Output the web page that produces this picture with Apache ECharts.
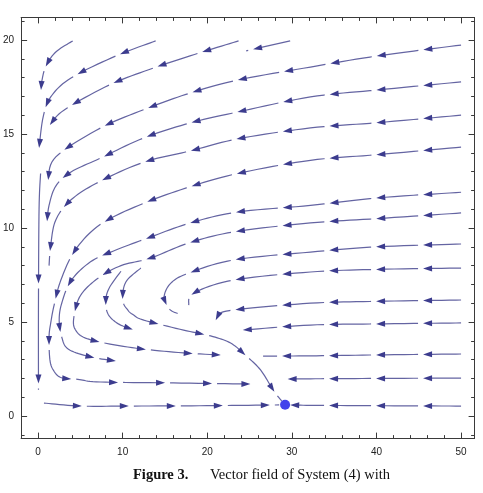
<!DOCTYPE html>
<html>
<head>
<meta charset="utf-8">
<script src="https://cdn.jsdelivr.net/npm/echarts@6/dist/echarts.min.js"></script>
<style>
  html, body { margin: 0; padding: 0; background: #fff; }
  #chart { width: 483px; height: 493px; }
</style>
</head>
<body>
<div id="chart"></div>
<script>
// tick values
const xMajorTicks = [0, 10, 20, 30, 40, 50];
const xMinorTicks = [2, 4, 6, 8, 12, 14, 16, 18, 22, 24, 26, 28, 32, 34, 36, 38, 42, 44, 46, 48];
const yMajorTicks = [0, 5, 10, 15, 20];
const yMinorTicks = [-1, 1, 2, 3, 4, 6, 7, 8, 9, 11, 12, 13, 14, 16, 17, 18, 19, 21];

// streamlines, points listed in the direction of flow
const streamTop1 = [[4.1, 19.95], [2.1, 19.36], [0.94, 18.62], [0.47, 17.87], [0.35, 17.34]];
const streamTop2 = [[13.9, 19.95], [9.2, 19.15], [3.9, 17.98], [1.5, 16.97], [0.6, 15.9], [0.12, 14.26]];
const streamTop3 = [[23.7, 19.95], [19.0, 19.3], [13.6, 18.5], [8.4, 17.6], [3.1, 16.28], [1.4, 15.48]];
const streamTop4 = [[29.8, 19.95], [24.6, 19.42]];
const streamR1 = [[50, 19.73], [40.1, 19.15], [32.2, 18.56], [23.6, 17.87], [18.0, 17.18], [13.0, 16.38], [7.4, 15.32], [2.1, 13.78], [1.2, 12.55]];
const streamR2 = [[50, 17.77], [40.1, 17.34], [32.2, 16.97], [23.6, 16.17], [18.0, 15.59], [12.5, 14.79], [7.4, 13.72], [3.9, 12.98], [2.1, 12.23], [1.3, 11.2], [1.06, 10.32]];
const streamR3 = [[50, 16.0], [40.1, 15.6], [32.2, 15.32], [23.6, 14.74], [18.0, 14.1], [12.5, 13.5], [7.2, 12.45], [3.9, 11.5], [2.1, 10.43], [1.5, 9.1], [1.3, 8.0]];
const streamR4 = [[50, 14.3], [40.1, 13.9], [32.2, 13.6], [23.6, 12.9], [18.0, 12.2], [12.4, 11.3], [7.4, 10.2], [4.4, 8.83], [2.7, 7.23], [1.9, 5.9], [1.5, 4.95], [1.3, 4.2], [1.4, 3.0], [1.8, 2.45], [2.7, 2.05], [4.7, 1.95], [7.4, 1.81], [16.0, 1.76], [25.1, 1.7]];
const streamR5 = [[50, 11.9], [40.1, 11.6], [32.2, 11.2], [23.6, 10.85], [18.0, 10.27], [13.3, 9.52], [9.2, 8.83], [6.2, 8.2], [3.9, 7.2], [2.8, 6.0], [2.5, 5.1], [2.8, 4.2], [3.6, 3.55], [6.25, 3.14], [9.2, 2.93]];
const streamR6 = [[50, 10.8], [40.1, 10.5], [32.2, 10.27], [23.1, 9.79], [17.8, 9.2], [13.3, 8.4], [9.8, 8.0], [7.0, 7.3], [5.0, 6.4], [4.25, 5.3], [4.4, 4.6], [5.9, 4.1], [10.6, 3.67], [16.0, 3.4], [21.6, 3.24]];
const streamInnerArc = [[9.8, 7.7], [8.4, 6.8], [8.0, 6.1], [8.3, 5.4], [9.5, 4.9], [11.2, 4.6]];
const streamSeparatrix = [[12.15, 7.87], [10.38, 7.13], [10.0, 6.17], [10.6, 5.64], [11.3, 5.37], [12.5, 5.1], [17.2, 4.57], [20.4, 4.26], [22.76, 3.88], [24.5, 3.24], [26.3, 2.45], [27.8, 1.38], [28.8, 0.8]];
const streamR7 = [[50, 9.15], [40.1, 9.0], [32.2, 8.72], [23.1, 8.3], [17.8, 7.6], [15.7, 7.07], [14.9, 6.33], [15.5, 5.7], [16.5, 5.45]];
const streamR8 = [[50, 7.87], [40.1, 7.8], [32.2, 7.66], [23.1, 7.23], [18.4, 6.54], [17.8, 5.9]];
const streamR9 = [[50, 6.17], [40.1, 6.1], [32.2, 6.0], [23.1, 5.64], [21.3, 5.37], [21.0, 5.1]];
const streamR10 = [[50, 4.95], [40.1, 4.9], [32.2, 4.84], [24.2, 4.57]];
const streamR11 = [[50, 3.3], [40.1, 3.25], [32.2, 3.2], [26.6, 3.19]];
const streamR12 = [[50, 2.02], [40.1, 2.0], [32.2, 1.98], [29.5, 1.97]];
const streamR13 = [[50, 0.53], [40.1, 0.55], [32.2, 0.57], [29.8, 0.59]];
const streamBottom = [[0.7, 0.69], [5.07, 0.53], [10.6, 0.53], [20, 0.55], [28.5, 0.59]];
const streamAxis = [[0.3, 12.9], [0.12, 11], [0.05, 6], [0.05, 1.4]];

const equilibrium = [[29.2, 0.6]];

const streams = [
  streamTop1, streamTop2, streamTop3, streamTop4,
  streamR1, streamR2, streamR3, streamR4, streamR5, streamR6, streamInnerArc, streamSeparatrix,
  streamR7, streamR8, streamR9, streamR10, streamR11, streamR12, streamR13,
  streamBottom, streamAxis
];
const longSegments = new Set([streamAxis]);

const lineColor = "#6464a2";
const headColor = "#3c3c8e";
const frameColor = "#3a3a3a";

// catmull-rom through the read points, in pixel space
function smoothPath(p) {
  if (p.length < 3) return p;
  const out = [p[0]];
  for (let i = 0; i < p.length - 1; i++) {
    const p0 = p[i - 1] || p[i], p1 = p[i], p2 = p[i + 1], p3 = p[i + 2] || p[i + 1];
    for (let k = 1; k <= 10; k++) {
      const t = k / 10, t2 = t * t, t3 = t2 * t;
      out.push([0, 1].map((j) => 0.5 * (2 * p1[j] + (-p0[j] + p2[j]) * t +
        (2 * p0[j] - 5 * p1[j] + 4 * p2[j] - p3[j]) * t2 +
        (-p0[j] + 3 * p1[j] - 3 * p2[j] + p3[j]) * t3)));
    }
  }
  return out;
}

function renderStream(params, api) {
  const src = streams[api.value(2)];
  const pts = smoothPath(src.map((p) => api.coord(p)));
  const cum = [0];
  for (let i = 1; i < pts.length; i++) {
    cum.push(cum[i - 1] + Math.hypot(pts[i][0] - pts[i - 1][0], pts[i][1] - pts[i - 1][1]));
  }
  const total = cum[cum.length - 1];
  const pointAt = (s) => {
    let i = 1;
    while (i < cum.length - 1 && cum[i] < s) i++;
    const t = (s - cum[i - 1]) / ((cum[i] - cum[i - 1]) || 1);
    return [pts[i - 1][0] + (pts[i][0] - pts[i - 1][0]) * t, pts[i - 1][1] + (pts[i][1] - pts[i - 1][1]) * t];
  };
  const slice = (a, b) => {
    const out = [pointAt(a)];
    for (let i = 0; i < pts.length; i++) if (cum[i] > a && cum[i] < b) out.push(pts[i]);
    out.push(pointAt(b));
    return out;
  };

  const long = longSegments.has(src);
  const first = long ? 110 : 38, seg = long ? 95 : 42, gap = 5, head = 9, half = 3;
  const children = [];
  let s0 = 0, len = first;
  while (s0 < total - 1) {
    const s1 = Math.min(s0 + len, total);
    const withHead = s1 - s0 > 14;
    const lineEnd = withHead ? s1 - head * 0.8 : s1;
    children.push({
      type: "polyline",
      shape: { points: slice(s0, lineEnd) },
      style: { stroke: lineColor, lineWidth: 1.2, fill: null },
      silent: true,
    });
    if (withHead) {
      const tip = pointAt(s1), back = pointAt(Math.max(s0, s1 - 6));
      let dx = tip[0] - back[0], dy = tip[1] - back[1];
      const d = Math.hypot(dx, dy) || 1;
      dx /= d; dy /= d;
      const bx = tip[0] - dx * head, by = tip[1] - dy * head;
      children.push({
        type: "polygon",
        shape: { points: [tip, [bx - dy * half, by + dx * half], [bx + dy * half, by - dx * half]] },
        style: { fill: headColor },
        silent: true,
      });
    }
    s0 = s1 + gap;
    len = seg;
  }
  return { type: "group", children };
}

const xRange = { min: -2, max: 51.6 };
const yRange = { min: -1.2, max: 21.2 };

function axisDef(range, position, ticks, length, labels, line, margin) {
  return {
    type: "value", position, ...range,
    axisLine: { show: line, onZero: false, lineStyle: { color: frameColor, width: 1 } },
    axisTick: { show: true, inside: true, length, customValues: ticks, lineStyle: { color: frameColor } },
    axisLabel: labels
      ? { show: true, customValues: ticks, color: "#222", fontSize: 10, fontFamily: "Liberation Sans", margin }
      : { show: false },
    splitLine: { show: false },
  };
}

const chart = echarts.init(document.getElementById("chart"), null, { renderer: "canvas" });

chart.setOption({
  animation: false,
  backgroundColor: "#fff",
  grid: { left: 20, right: 8.4, top: 17.4, bottom: 54.4, containLabel: false },
  xAxis: [
    axisDef(xRange, "bottom", xMajorTicks, 6, true, true, 9),
    axisDef(xRange, "bottom", xMinorTicks, 3.5, false, false),
    axisDef(xRange, "top", xMajorTicks, 6, false, true),
    axisDef(xRange, "top", xMinorTicks, 3.5, false, false),
  ],
  yAxis: [
    axisDef(yRange, "left", yMajorTicks, 6, true, true, 7),
    axisDef(yRange, "left", yMinorTicks, 3.5, false, false),
    axisDef(yRange, "right", yMajorTicks, 6, false, true),
    axisDef(yRange, "right", yMinorTicks, 3.5, false, false),
  ],
  series: [
    {
      type: "custom",
      coordinateSystem: "cartesian2d",
      xAxisIndex: 0,
      yAxisIndex: 0,
      clip: false,
      silent: true,
      data: streams.map((s, i) => [s[0][0], s[0][1], i]),
      encode: { x: 0, y: 1 },
      renderItem: renderStream,
    },
    {
      type: "scatter",
      xAxisIndex: 0,
      yAxisIndex: 0,
      data: equilibrium,
      symbolSize: 10,
      itemStyle: { color: "#1414e6" },
      z: 5,
    },
  ],
  graphic: [
    {
      type: "text", left: 133, top: 468,
      style: { text: "Figure 3.", font: "bold 14.5px 'Liberation Serif'", fill: "#111" },
    },
    {
      type: "text", left: 210, top: 468,
      style: { text: "Vector field of System (4) with", font: "14.5px 'Liberation Serif'", fill: "#111" },
    },
  ],
});
</script>
</body>
</html>
